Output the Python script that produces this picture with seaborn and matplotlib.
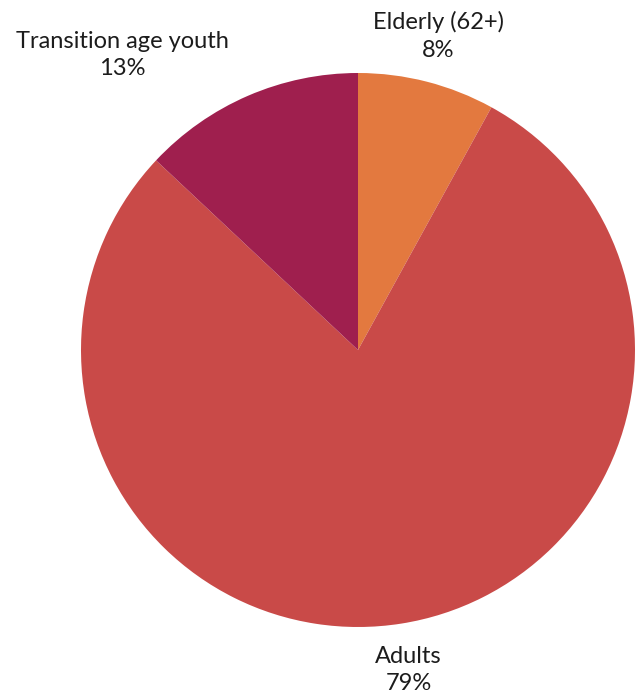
import numpy as np
import matplotlib
matplotlib.use("Agg")
import matplotlib.pyplot as plt
import seaborn as sns

categories = ["Elderly (62+)", "Adults", "Transition age youth"]
shares = [8, 79, 13]
colors = ["#E3793F", "#C94A48", "#9F1F4E"]

sns.set_theme(style="white")
plt.rcParams["font.family"] = ["Lato", "DejaVu Sans"]

W, H = 643, 694
fig = plt.figure(figsize=(W / 100, H / 100), dpi=100)
cx, cy, r = 358, 350, 277
ax = fig.add_axes([(cx - r) / W, (H - cy - r) / H, 2 * r / W, 2 * r / H])

wedges, _ = ax.pie(shares, colors=colors, startangle=90, counterclock=False,
                   radius=1, wedgeprops=dict(linewidth=0))
ax.set_xlim(-1, 1)
ax.set_ylim(-1, 1)
ax.set_aspect("equal")
ax.axis("off")

# label positions: radial for most slices, shifted outward-left for the small top-left one
for w, name, val in zip(wedges, categories, shares):
    mid = np.deg2rad((w.theta1 + w.theta2) / 2)
    if name == "Transition age youth":
        x, y = -236 / r, 295 / r
    else:
        x, y = 1.17 * np.cos(mid), 1.17 * np.sin(mid)
    ax.text(x, y, f"{name}\n{val}%", ha="center", va="center", fontsize=17,
            color="#1c1c1c", linespacing=1.4, clip_on=False)

fig.savefig("out.png", dpi=100)
